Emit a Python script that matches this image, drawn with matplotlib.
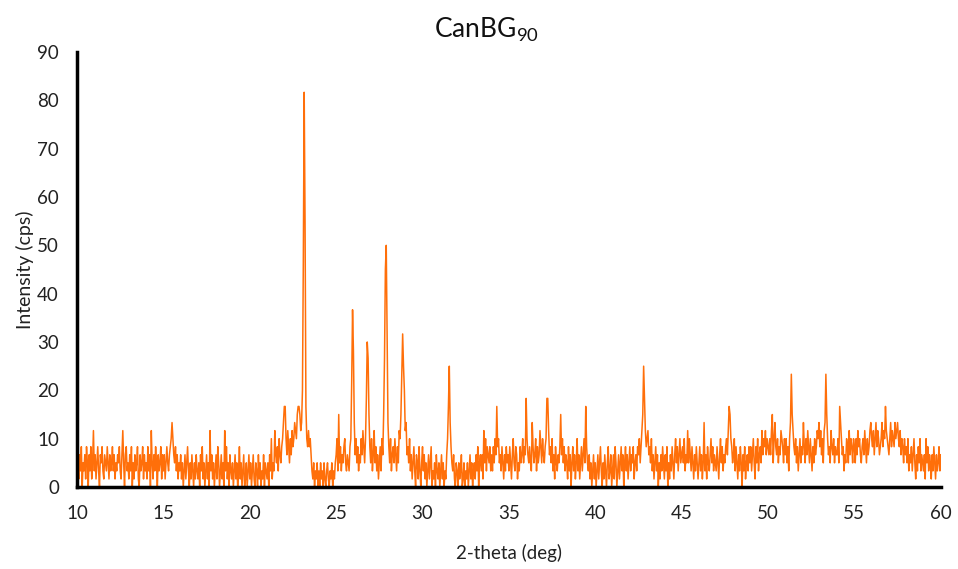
import numpy as np
import matplotlib
matplotlib.use("Agg")
import matplotlib.pyplot as plt

plt.rcParams['font.family'] = ['Lato', 'DejaVu Sans']
plt.rcParams['mathtext.fontset'] = 'custom'
plt.rcParams['mathtext.rm'] = 'Lato'

# XRD scan of CanBG90: 2-theta from 10 to 60 deg, step 0.05 deg, 0.6 s per step
start_deg = 10.0
step_deg = 0.05
count_time = 0.6

# detector counts per step, one row per degree of 2-theta
counts_rows = [
    [6,3,1,4,2,5,0,3,2,4,1,5,3,0,4,2,5,1,3,7],            # 10
    [2,4,1,3,5,2,0,4,3,5,2,1,4,3,2,5,3,1,4,2],            # 11
    [3,5,2,4,1,3,2,4,3,5,2,1,4,7,3,0,4,5,2,3],            # 12
    [1,4,2,5,0,3,1,4,2,3,5,1,0,4,2,3,5,1,4,2],            # 13
    [3,1,5,2,4,0,7,3,1,4,2,5,3,0,4,2,3,5,1,4],            # 14
    [2,4,1,3,5,3,2,4,5,6,8,6,4,3,5,2,4,1,3,2],            # 15
    [4,1,3,0,2,4,1,3,5,2,0,3,1,4,2,0,3,1,4,2],            # 16
    [1,3,0,4,2,5,1,3,0,2,4,1,3,0,7,2,4,1,3,0],            # 17
    [2,4,1,5,3,0,2,4,1,3,0,7,2,5,1,3,0,4,2,1],            # 18
    [3,0,2,4,1,3,0,2,5,1,3,0,2,4,0,1,3,0,2,4],            # 19
    [1,3,0,2,4,1,0,3,2,0,4,1,3,0,2,1,4,0,3,2],            # 20
    [1,3,0,4,2,6,1,3,2,7,4,3,5,2,6,4,3,5,6,8],            # 21
    [10,10,6,4,7,5,3,6,4,7,5,6,8,7,6,9,10,10,9,7],        # 22
    [8,12,28,49,33,10,6,5,7,5,6,4,2,1,3,0,2,1,3,0],       # 23
    [2,0,3,1,2,0,3,1,0,2,3,1,0,2,1,3,0,2,1,3],            # 24
    [4,6,2,9,3,5,2,4,3,5,6,3,2,4,3,2,5,6,13,22],          # 25
    [17,8,4,6,3,5,2,4,3,6,4,7,5,3,6,11,18,16,9,5],        # 26
    [3,6,2,4,7,3,5,2,4,1,3,5,2,6,4,9,16,27,30,19],        # 27
    [8,5,3,6,2,4,5,3,6,4,2,5,3,7,6,9,14,19,15,12],        # 28
    [7,8,4,5,3,6,2,4,1,3,5,2,0,4,3,1,5,2,0,3],            # 29
    [5,2,4,1,3,0,2,4,1,3,5,0,2,1,3,0,4,2,1,3],            # 30
    [0,2,4,1,3,0,2,1,4,6,10,15,8,5,3,2,4,1,0,3],          # 31
    [2,0,3,1,2,4,0,1,3,0,2,1,3,0,2,4,1,3,0,2],            # 32
    [3,1,4,2,5,0,3,4,2,4,1,7,3,6,2,5,4,3,5,2],            # 33
    [4,2,5,3,6,4,10,5,6,3,4,2,5,3,1,4,2,5,3,4],           # 34
    [2,5,3,1,4,6,3,2,5,4,1,3,2,5,3,4,6,3,5,4],            # 35
    [11,6,4,3,5,3,2,8,5,3,4,6,2,5,3,4,7,5,3,6],           # 36
    [4,3,5,6,11,11,7,4,5,3,6,2,4,1,5,3,2,4,3,5],          # 37
    [9,4,6,3,5,2,4,3,1,5,2,4,0,3,5,2,4,1,3,6],            # 38
    [2,4,1,3,5,2,4,6,3,10,5,3,2,4,1,3,0,2,4,1],           # 39
    [3,0,2,4,1,3,5,2,0,3,1,4,2,0,3,5,1,2,4,0],            # 40
    [2,4,1,5,3,0,2,4,1,3,5,2,4,0,3,5,2,4,1,3],            # 41
    [5,2,4,3,5,1,3,4,2,5,4,6,3,5,7,9,15,11,7,5],          # 42
    [6,7,4,5,3,6,2,4,1,3,5,2,4,0,3,1,4,2,5,3],            # 43
    [1,4,2,5,0,3,1,4,2,5,3,1,4,6,3,5,2,4,6,3],            # 44
    [4,5,3,6,2,4,3,7,3,6,4,2,5,3,1,4,2,5,3,1],            # 45
    [3,5,2,4,1,3,8,2,4,1,5,3,2,4,6,3,5,2,4,3],            # 46
    [2,5,3,1,4,6,3,5,2,4,3,5,6,4,7,10,9,6,5,3],           # 47
    [4,6,2,5,3,1,4,2,5,3,0,4,2,5,1,3,4,2,5,3],            # 48
    [5,2,4,6,3,1,5,3,6,2,4,5,3,7,4,6,5,7,4,6],            # 49
    [5,4,6,4,7,9,3,6,8,5,4,6,3,5,4,7,6,5,3,6],            # 50
    [4,6,3,5,2,6,8,14,9,7,5,4,6,3,5,2,4,6,3,5],           # 51
    [4,8,5,3,6,4,7,5,3,6,4,2,5,3,6,4,5,7,6,8],            # 52
    [5,7,4,6,3,7,8,14,9,6,4,5,3,7,5,4,6,3,5,4],           # 53
    [4,6,3,10,8,6,4,5,2,4,3,6,5,3,7,4,6,5,3,6],           # 54
    [5,3,6,4,7,5,6,4,3,5,6,4,7,5,3,6,4,5,7,8],            # 55
    [6,5,7,4,6,8,5,7,6,4,5,6,8,5,7,6,10,7,6,5],           # 56
    [4,6,8,5,7,6,5,8,6,7,8,6,5,7,4,6,5,3,6,4],            # 57
    [5,3,6,2,4,3,5,2,4,6,3,1,4,2,5,3,6,2,4,3],            # 58
    [2,4,1,6,3,5,2,4,3,1,4,2,5,3,1,4,2,3,5,2],            # 59
    [4],                                                  # 60
]

x_ticks = [10, 15, 20, 25, 30, 35, 40, 45, 50, 55, 60]
y_ticks = [0, 10, 20, 30, 40, 50, 60, 70, 80, 90]

counts = np.concatenate([np.array(r, dtype=float) for r in counts_rows])
two_theta = start_deg + step_deg * np.arange(len(counts))
intensity = counts / count_time

fig = plt.figure(figsize=(9.58, 5.69), dpi=100)
ax = fig.add_axes([0.0804, 0.1441, 0.9016, 0.7645])

ax.plot(two_theta, intensity, color='#FF6F0A', linewidth=1.1)

ax.set_xlim(10, 60)
ax.set_ylim(0, 90)
ax.set_xticks(x_ticks)
ax.set_yticks(y_ticks)
ax.tick_params(axis='both', length=0, labelsize=13.5, colors='#222222')
ax.tick_params(axis='x', pad=13)
ax.tick_params(axis='y', pad=13)

for side in ('top', 'right'):
    ax.spines[side].set_visible(False)
for side in ('left', 'bottom'):
    ax.spines[side].set_linewidth(2.5)
    ax.spines[side].set_color('black')

ax.set_xlabel('2-theta (deg)', fontsize=13.5, color='#222222', labelpad=16)
ax.set_ylabel('Intensity (cps)', fontsize=14, color='#222222', labelpad=2)
fig.text(0.508, 0.947, r'CanBG$_{\mathregular{90}}$', ha='center', va='center',
         fontsize=19, color='#111111')

fig.savefig('out.png', dpi=100)
